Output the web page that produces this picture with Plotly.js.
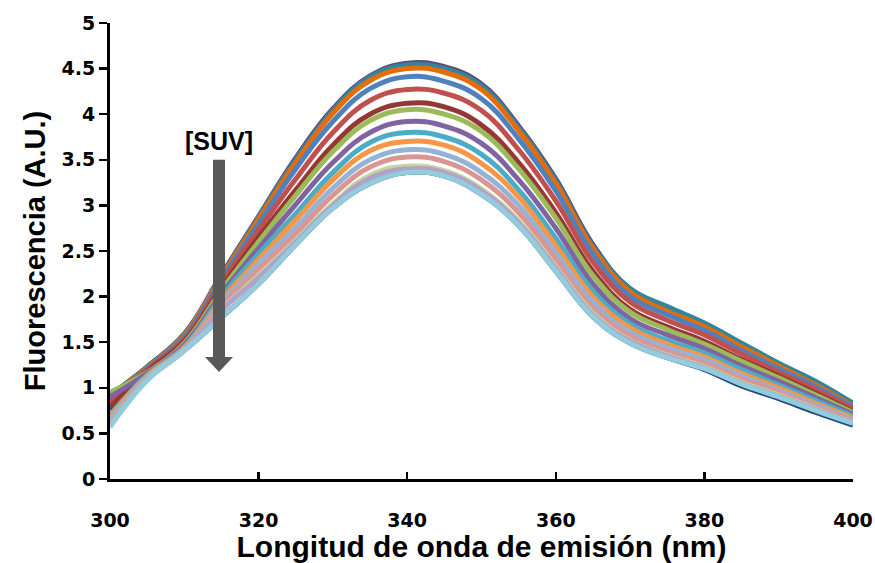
<!DOCTYPE html>
<html>
<head>
<meta charset="utf-8">
<script src="https://cdn.plot.ly/plotly-3.0.1.min.js"></script>
<style>html,body{margin:0;padding:0;background:#fff;}#chart{width:875px;height:563px;}</style>
</head>
<body>
<div id="chart"></div>
<script>
// Emission wavelength (nm)
const wavelength = [300,305,310,315,320,325,330,335,340,345,350,355,360,365,370,375,380,385,390,395,400];

// Fluorescence spectra (A.U.), highest to lowest peak as [SUV] increases
const s01 = [0.92,1.23,1.59,2.24,2.88,3.52,4.06,4.42,4.56,4.52,4.33,3.87,3.29,2.57,2.08,1.87,1.69,1.47,1.26,1.05,0.82];
const s02 = [0.91,1.23,1.59,2.23,2.87,3.50,4.04,4.41,4.54,4.50,4.31,3.85,3.27,2.55,2.09,1.89,1.71,1.49,1.27,1.07,0.83];
const s03 = [0.90,1.22,1.58,2.22,2.85,3.47,4.01,4.37,4.50,4.46,4.27,3.82,3.24,2.53,2.05,1.84,1.67,1.45,1.24,1.03,0.80];
const s04 = [0.88,1.21,1.56,2.19,2.80,3.40,3.92,4.28,4.41,4.36,4.17,3.73,3.16,2.47,2.00,1.80,1.63,1.41,1.21,1.01,0.79];
const s05 = [0.84,1.20,1.53,2.15,2.73,3.29,3.80,4.15,4.27,4.23,4.04,3.61,3.05,2.38,1.94,1.74,1.58,1.37,1.17,0.98,0.77];
const s06 = [0.79,1.18,1.51,2.10,2.65,3.17,3.66,4.00,4.12,4.08,3.88,3.47,2.92,2.28,1.86,1.67,1.51,1.31,1.13,0.94,0.74];
const s07 = [0.95,1.17,1.49,2.07,2.60,3.11,3.59,3.93,4.05,4.00,3.81,3.40,2.86,2.23,1.83,1.64,1.48,1.29,1.11,0.92,0.73];
const s08 = [0.90,1.16,1.47,2.03,2.53,3.01,3.47,3.80,3.92,3.87,3.68,3.28,2.75,2.14,1.76,1.58,1.43,1.24,1.07,0.89,0.71];
const s09 = [0.70,1.14,1.45,2.00,2.47,2.91,3.36,3.69,3.80,3.75,3.56,3.17,2.64,2.06,1.70,1.52,1.38,1.20,1.03,0.86,0.69];
const s10 = [0.68,1.13,1.44,1.96,2.41,2.84,3.28,3.60,3.70,3.66,3.46,3.09,2.56,2.00,1.66,1.48,1.34,1.16,1.00,0.83,0.67];
const s11 = [0.65,1.12,1.43,1.93,2.36,2.76,3.19,3.50,3.61,3.56,3.36,3.00,2.48,1.94,1.61,1.44,1.31,1.13,0.97,0.81,0.65];
const s12 = [0.62,1.11,1.42,1.90,2.30,2.69,3.11,3.42,3.53,3.48,3.28,2.92,2.41,1.88,1.57,1.40,1.27,1.10,0.95,0.79,0.64];
const s13 = [0.60,1.10,1.41,1.86,2.23,2.62,3.02,3.33,3.43,3.38,3.18,2.83,2.33,1.82,1.52,1.36,1.23,1.06,0.92,0.77,0.62];
const s14 = [0.59,1.09,1.41,1.85,2.21,2.60,3.00,3.30,3.40,3.36,3.16,2.81,2.31,1.80,1.51,1.35,1.22,1.05,0.91,0.76,0.62];
const s15 = [0.76,1.10,1.41,1.77,2.14,2.57,2.97,3.24,3.36,3.32,3.12,2.78,2.28,1.78,1.49,1.33,1.20,1.02,0.88,0.73,0.59];
const s16 = [0.57,1.08,1.41,1.77,2.14,2.57,2.97,3.24,3.36,3.32,3.12,2.78,2.28,1.78,1.49,1.33,1.21,1.04,0.90,0.75,0.61];

const seriesList = [s15,s01,s02,s03,s04,s05,s06,s07,s08,s09,s10,s11,s12,s13,s14,s16];
const colors = ['#1F497D','#604A7B','#31859C','#E46C0A','#4F81BD','#C0504D','#953735','#9BBB59',
                '#8064A2','#4BACC6','#F79646','#95B3D7','#D99694','#C3D69B','#B3A2C7','#93CDDD'];

const xTicks = [300,320,340,360,380,400];
const yTicks = [0,0.5,1,1.5,2,2.5,3,3.5,4,4.5,5];

const traces = seriesList.map((ys, i) => ({
  x: wavelength, y: ys, type: 'scatter', mode: 'lines',
  line: {color: colors[i], width: 5, shape: 'spline', smoothing: 1.2},
  showlegend: false, hoverinfo: 'skip'
}));

const arrowX = [312.79, 313.86, 315.48, 316.55, 314.67];
const arrowY = [1.338, 3.50, 1.173];
const tickFont = {family: '"DejaVu Sans", "Liberation Sans", sans-serif', size: 19, color: '#000'};

const layout = {
  width: 875, height: 563,
  margin: {l: 110, r: 22, t: 23, b: 84},
  paper_bgcolor: '#ffffff', plot_bgcolor: '#ffffff',
  showlegend: false,
  xaxis: {
    range: [300, 400], tickvals: xTicks, ticktext: xTicks.map(v => '<b>' + v + '</b>'),
    ticks: 'inside', ticklen: 7, tickwidth: 2.5, tickcolor: '#000',
    showline: true, linewidth: 3, linecolor: '#000',
    showgrid: false, zeroline: false,
    ticklabelstandoff: 22,
    tickfont: tickFont,
    title: {text: '<b>Longitud de onda de emisión (nm)</b>', standoff: 0,
            font: {family: '"Liberation Sans", Arial, sans-serif', size: 30, color: '#000'}}
  },
  yaxis: {
    range: [0, 5], tickvals: yTicks, ticktext: yTicks.map(v => '<b>' + v + '</b>'),
    ticks: 'outside', ticklen: 8, tickwidth: 2.5, tickcolor: '#000',
    showline: true, linewidth: 3, linecolor: '#000',
    showgrid: false, zeroline: false,
    tickfont: tickFont,
    title: {text: '<b>Fluorescencia (A.U.)</b>', standoff: 8,
            font: {family: '"Liberation Sans", Arial, sans-serif', size: 29, color: '#000'}}
  },
  shapes: [
    {type: 'rect', xref: 'x', yref: 'y', x0: arrowX[1], x1: arrowX[2], y0: arrowY[0], y1: arrowY[1],
     fillcolor: '#595959', line: {width: 0}},
    {type: 'path', xref: 'x', yref: 'y',
     path: 'M ' + arrowX[0] + ' ' + arrowY[0] + ' L ' + arrowX[3] + ' ' + arrowY[0] + ' L ' + arrowX[4] + ' ' + arrowY[2] + ' Z',
     fillcolor: '#595959', line: {width: 0}}
  ],
  annotations: [
    {x: arrowX[4], y: 3.71, xref: 'x', yref: 'y', text: '<b>[SUV]</b>', showarrow: false,
     font: {family: '"Liberation Sans", Arial, sans-serif', size: 25, color: '#000'}}
  ]
};

Plotly.newPlot('chart', traces, layout, {displayModeBar: false, staticPlot: true});
</script>
</body>
</html>
